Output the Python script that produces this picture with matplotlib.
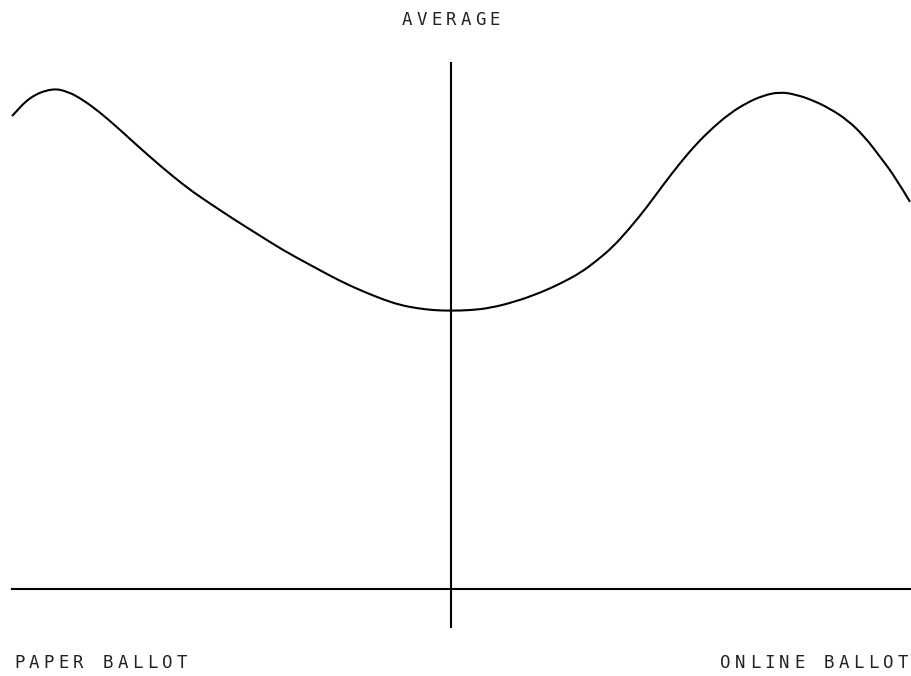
import matplotlib
matplotlib.use("Agg")
import matplotlib.pyplot as plt
from matplotlib.path import Path
from matplotlib.patches import PathPatch

# Curva: posicao (0 = papel, 100 = online) e valor (0 = linha de base)
posicao = [0, 2.0, 4.45, 6.2, 7.9, 9.8, 11.7, 13.5, 15.4, 17.8, 20.2, 22.4, 24.6,
           27.4, 30.2, 33.0, 35.7, 37.6, 39.5, 41.4, 43.2, 45.0, 46.9, 48.9,
           51.0, 53.2, 56.0, 58.8, 61.0, 63.3, 65.1, 66.9, 68.8, 70.7, 72.5,
           74.4, 76.2, 78.1, 80.0, 81.8, 83.6, 85.5, 87.3, 89.2, 91.1, 93.0,
           94.9, 96.7, 98.4, 100]
valor = [89.9, 93.6, 95.2, 94.6, 93.0, 90.6, 87.8, 85.0, 82.1, 78.6, 75.4, 72.9, 70.4,
         67.4, 64.4, 61.8, 59.3, 57.7, 56.3, 55.0, 54.0, 53.4, 53.0, 52.9,
         53.0, 53.4, 54.6, 56.3, 58.0, 60.1, 62.4, 65.0, 68.6, 72.6, 76.8,
         81.0, 84.6, 87.8, 90.5, 92.4, 93.8, 94.5, 94.0, 92.9, 91.3, 89.2,
         86.1, 82.1, 78.2, 73.6]

meio = 48.9
rotulo_topo = "AVERAGE"
rotulo_esq = "PAPER BALLOT"
rotulo_dir = "ONLINE BALLOT"

W, H = 912, 676
fig = plt.figure(figsize=(W / 100, H / 100), dpi=100)
fig.patch.set_facecolor("white")

# eixo ocupa de x=12 a x=910 px, y da base (589 px) ate 63 px
x0, x1, ybase, ytopo = 12, 910, 589, 63
ax = fig.add_axes([x0 / W, 1 - ybase / H, (x1 - x0) / W, (ybase - ytopo) / H])
ax.set_xlim(0, 100)
ax.set_ylim(0, 100)
ax.axis("off")

# curva suave: pontos lidos como controles de beziers quadraticas
pts = list(zip(posicao, valor))
verts = [pts[0], ((pts[0][0] + pts[1][0]) / 2, (pts[0][1] + pts[1][1]) / 2)]
codes = [Path.MOVETO, Path.LINETO]
for i in range(1, len(pts) - 2):
    mx = (pts[i][0] + pts[i + 1][0]) / 2
    my = (pts[i][1] + pts[i + 1][1]) / 2
    verts += [pts[i], (mx, my)]
    codes += [Path.CURVE3, Path.CURVE3]
verts += [pts[-2], pts[-1]]
codes += [Path.CURVE3, Path.CURVE3]
ax.add_patch(PathPatch(Path(verts, codes), facecolor="none", edgecolor="black",
                       lw=1.5, clip_on=False))

ax.plot([0, 100], [0, 0], color="black", lw=1.5, clip_on=False)
ax.plot([meio, meio], [-7.2, 100], color="black", lw=1.5, clip_on=False)


def texto_espacado(s, esquerda, base, passo=14.75):
    for i, ch in enumerate(s):
        fig.text((esquerda + (i + 0.5) * passo) / W, 1 - base / H, ch,
                 ha="center", va="baseline", fontsize=12.5,
                 family="DejaVu Sans Mono", color="#222222")


texto_espacado(rotulo_topo, 451 - len(rotulo_topo) * 14.6 / 2, 25, passo=14.6)
texto_espacado(rotulo_esq, 12, 668)
texto_espacado(rotulo_dir, 910 - len(rotulo_dir) * 14.75, 668)

fig.savefig("out.png", dpi=100)
